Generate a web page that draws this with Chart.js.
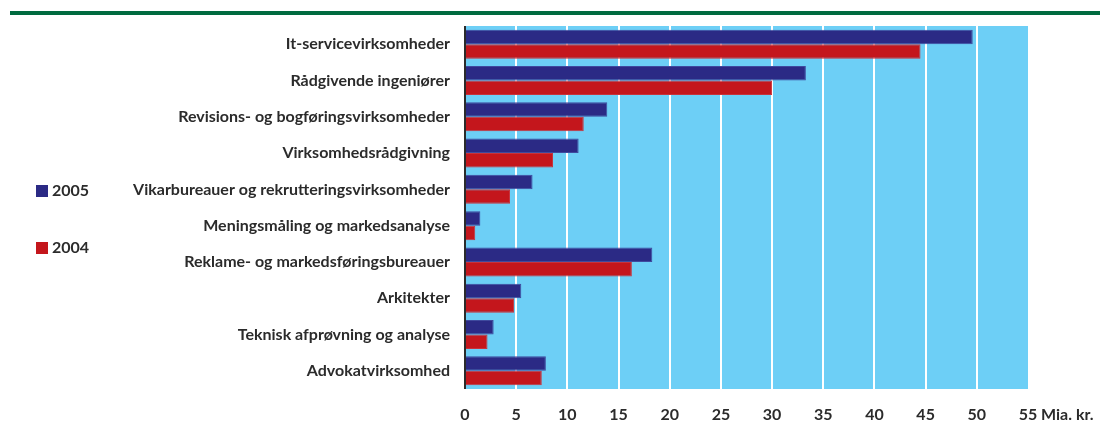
<!DOCTYPE html>
<html lang="da">
<head>
  <meta charset="UTF-8">
  <title>Omsætning i videnservice</title>
  <script src="https://cdn.jsdelivr.net/npm/chart.js"></script>
  <style>
    body {
      margin: 0;
      padding: 0;
      background: #fff;
      font-family: "Lato", sans-serif;
    }
    .wrap {
      position: relative;
      width: 1100px;
      height: 439px;
    }
    .topline {
      position: absolute;
      left: 10px;
      right: 0;
      top: 11px;
      height: 4px;
      background: #006b3f;
    }
    .legend {
      position: absolute;
      left: 36px;
      font-weight: bold;
      font-size: 16px;
      color: #2b2b2b;
      line-height: 14px;
    }
    .legend span {
      display: inline-block;
      width: 12px;
      height: 12px;
      margin-right: 4px;
      vertical-align: -1px;
    }
  </style>
</head>
<body>
  <div class="wrap">
    <div class="topline"></div>
    <canvas id="chart"></canvas>
    <!-- Legende -->
    <div class="legend" style="top:183px"><span style="background:#2b2a85"></span>2005</div>
    <div class="legend" style="top:240px"><span style="background:#c4161c"></span>2004</div>
  </div>

  <script>
    // Brancher
    const categories = [
      "It-servicevirksomheder",
      "Rådgivende ingeniører",
      "Revisions- og bogføringsvirksomheder",
      "Virksomhedsrådgivning",
      "Vikarbureauer og rekrutteringsvirksomheder",
      "Meningsmåling og markedsanalyse",
      "Reklame- og markedsføringsbureauer",
      "Arkitekter",
      "Teknisk afprøvning og analyse",
      "Advokatvirksomhed"
    ];
    // Omsætning, mia. kr.
    const values2005 = [49.6, 33.3, 13.9, 11.1, 6.6, 1.5, 18.3, 5.5, 2.8, 7.9];
    const values2004 = [44.5, 30.0, 11.6, 8.6, 4.4, 1.0, 16.3, 4.8, 2.2, 7.5];
    const xTicks = [0, 5, 10, 15, 20, 25, 30, 35, 40, 45, 50, 55];
    const unitLabel = "Mia. kr.";

    const textColor = '#2b2b2b';
    const fontFamily = 'Lato, sans-serif';

    // Hellblauer Plot-Hintergrund + Einheit rechts
    const plotBg = {
      id: 'plotBg',
      beforeDraw(chart) {
        const { ctx, chartArea: a } = chart;
        ctx.save();
        ctx.fillStyle = '#6dcff6';
        ctx.fillRect(a.left, a.top, a.right - a.left, a.bottom - a.top);
        ctx.restore();
      },
      afterDraw(chart) {
        const { ctx } = chart;
        const xs = chart.scales.x;
        ctx.save();
        ctx.font = 'bold 16px ' + fontFamily;
        ctx.fillStyle = textColor;
        ctx.textAlign = 'left';
        ctx.textBaseline = 'middle';
        ctx.fillText(unitLabel, xs.getPixelForValue(xTicks[xTicks.length - 1]) + 13, 415);
        ctx.restore();
      }
    };

    const ctx = document.getElementById('chart').getContext('2d');
    const chart = new Chart(ctx, {
      type: 'bar',
      data: {
        labels: categories,
        datasets: [
          {
            label: '2005',
            data: values2005,
            backgroundColor: '#2b2a85',
            borderColor: '#3f4a9e',
            borderWidth: 1,
            categoryPercentage: 0.8,
            barPercentage: 1.0
          },
          {
            label: '2004',
            data: values2004,
            backgroundColor: '#c4161c',
            borderColor: '#c8323a',
            borderWidth: 1,
            categoryPercentage: 0.8,
            barPercentage: 1.0
          }
        ]
      },
      options: {
        indexAxis: 'y',
        responsive: true,
        maintainAspectRatio: false,
        animation: false,
        layout: { padding: { top: 26, right: 72, bottom: 0, left: 0 } },
        plugins: {
          legend: { display: false },
          tooltip: { enabled: false }
        },
        scales: {
          x: {
            min: 0,
            max: 55,
            afterBuildTicks: s => { s.ticks = xTicks.map(v => ({ value: v })); },
            afterFit: s => { s.height = 50; },
            border: { display: false },
            grid: {
              drawTicks: false,
              lineWidth: 2,
              color: c => c.index === 0 ? '#2b2b2b' : (c.index === xTicks.length - 1 ? 'rgba(0,0,0,0)' : '#ffffff')
            },
            ticks: {
              padding: 16,
              color: textColor,
              font: { family: fontFamily, size: 16, weight: 'bold' }
            }
          },
          y: {
            afterFit: s => { s.width = 465; },
            border: { display: false },
            grid: { display: false, drawTicks: false },
            ticks: {
              padding: 15,
              color: textColor,
              font: { family: fontFamily, size: 16, weight: 'bold' }
            }
          }
        }
      },
      plugins: [plotBg]
    });
  </script>
</body>
</html>
